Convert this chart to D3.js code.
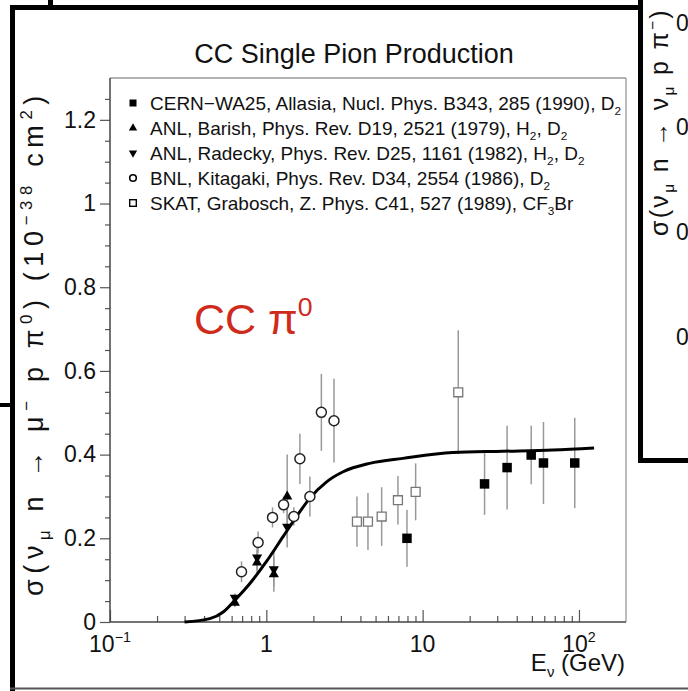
<!DOCTYPE html>
<html><head><meta charset="utf-8">
<script src="https://cdn.jsdelivr.net/npm/d3@7"></script>
<style>
html,body{margin:0;padding:0;background:#fff;overflow:hidden}
svg{display:block;font-family:"Liberation Sans",Arial,Helvetica,sans-serif}
</style></head><body>
<svg id="c" width="688" height="691"></svg>
<script>
// ---------------- data ----------------
const cernE   = [7.94, 24.9, 34.7, 49.5, 59.3, 94.0];
const cernS   = [0.200, 0.330, 0.369, 0.399, 0.380, 0.380];
const cernErr = [0.068, 0.074, 0.100, 0.070, 0.098, 0.108];

const barishE   = [0.629, 0.873, 1.117, 1.36];
const barishS   = [0.046, 0.142, 0.114, 0.300];
const barishErr = [0.010, 0.030, 0.042, 0.100];

const radeckyE   = [0.629, 0.873, 1.117, 1.36];
const radeckyS   = [0.058, 0.154, 0.126, 0.228];
const radeckyErr = [0.010, 0.030, 0.042, 0.050];

const bnlE   = [0.694, 0.886, 1.096, 1.29, 1.50, 1.64, 1.90, 2.25, 2.71];
const bnlS   = [0.120, 0.190, 0.250, 0.280, 0.252, 0.390, 0.300, 0.501, 0.481];
const bnlErr = [0.025, 0.026, 0.024, 0.020, 0.022, 0.060, 0.048, 0.092, 0.100];

const skatE   = [3.80, 4.47, 5.47, 6.95, 9.02, 16.9];
const skatS   = [0.240, 0.240, 0.252, 0.291, 0.311, 0.549];
const skatErr = [0.060, 0.068, 0.070, 0.058, 0.068, 0.148];

const curveE = [0.30, 0.435, 0.53, 0.629, 0.785, 1.0, 1.28, 1.56, 1.90, 2.43, 3.10, 4.58, 7.48, 15.6, 32.6, 68.1, 125];
const curveS = [0.000, 0.008, 0.024, 0.052, 0.092, 0.144, 0.204, 0.252, 0.296, 0.335, 0.359, 0.379, 0.391, 0.405, 0.408, 0.411, 0.416];

const yMajorTicks = [0, 0.2, 0.4, 0.6, 0.8, 1, 1.2];
const yMinorTicks = [0.05,0.1,0.15,0.25,0.3,0.35,0.45,0.5,0.55,0.65,0.7,0.75,0.85,0.9,0.95,1.05,1.1,1.15,1.25];
const xMajorTicks = [0.1, 1, 10, 100];
const xMinorTicks = [0.2,0.3,0.4,0.5,0.6,0.7,0.8,0.9,2,3,4,5,6,7,8,9,20,30,40,50,60,70,80,90];
const xTickLabels = [["10","−1"],["1",""],["10",""],["10","2"]];

const titleText = "CC Single Pion Production";
const legendLabels = [
  [["CERN−WA25, Allasia, Nucl. Phys. B343, 285 (1990), D",""],["2","sub"]],
  [["ANL, Barish, Phys. Rev. D19, 2521 (1979), H",""],["2","sub"],[", D",""],["2","sub"]],
  [["ANL, Radecky, Phys. Rev. D25, 1161 (1982), H",""],["2","sub"],[", D",""],["2","sub"]],
  [["BNL, Kitagaki, Phys. Rev. D34, 2554 (1986), D",""],["2","sub"]],
  [["SKAT, Grabosch, Z. Phys. C41, 527 (1989), CF",""],["3","sub"],["Br",""]]
];
const yLabelParts = [["σ(ν",""],["μ","sub"],[" n → μ",""],["−","sup"],[" p π",""],["0","sup"],[") (10",""],["−38","sup"],[" cm",""],["2","sup"],[")",""]];
const rightLabelParts = [["σ(ν",""],["μ","sub"],[" n → ν",""],["μ","sub"],[" p π",""],["−","sup"],[")",""]];
const xLabelParts = [["E",""],["ν","sub"],[" (GeV)",""]];
const redLabelParts = [["CC π",""],["0","sup"]];

// ---------------- helpers ----------------
function rich(sel, parts, fs) {
  let cur = 0;
  parts.forEach(([t, k]) => {
    const target = k === "sup" ? -0.42 * fs : k === "sub" ? 0.25 * fs : 0;
    const ts = sel.append("tspan").text(t).attr("dy", target - cur);
    if (k) ts.attr("font-size", fs * 0.62);
    cur = target;
  });
  return sel;
}
function stretch(sel, target) {
  const node = sel.node();
  const L = node.getComputedTextLength();
  const n = node.getNumberOfChars();
  sel.style("letter-spacing", Math.max(0, (target - L) / n) + "px");
}

const svg = d3.select("#c");

// ---------------- page decoration (panel borders) ----------------
svg.append("rect").attr("x",0).attr("y",0).attr("width",688).attr("height",691).attr("fill","#fff");
svg.append("rect").attr("x",10).attr("y",5).attr("width",5).attr("height",686).attr("fill","#000");
svg.append("rect").attr("x",10).attr("y",5).attr("width",633).attr("height",5).attr("fill","#000");
svg.append("rect").attr("x",48).attr("y",0).attr("width",5).attr("height",6).attr("fill","#000");
svg.append("rect").attr("x",0).attr("y",403).attr("width",12).attr("height",4).attr("fill","#000");
svg.append("rect").attr("x",10).attr("y",687.5).attr("width",678).attr("height",2).attr("fill","#555");

// right neighbouring panel
svg.append("rect").attr("x",638).attr("y",0).attr("width",50).attr("height",463).attr("fill","#fff");
svg.append("rect").attr("x",638).attr("y",0).attr("width",5).attr("height",463).attr("fill","#000");
svg.append("rect").attr("x",638).attr("y",458).attr("width",50).attr("height",5).attr("fill","#000");
const rl = svg.append("text").attr("transform","translate(668,236) rotate(-90)")
  .attr("font-size",25).attr("fill","#111");
rich(rl, rightLabelParts, 25);
stretch(rl, 228);
[23, 127, 232, 337].forEach(v => {
  svg.append("text").attr("x",676).attr("y",v+8).attr("font-size",23).attr("fill","#111").text("0");
});

// ---------------- scales ----------------
const x = d3.scaleLog().domain([0.1, 200]).range([110, 626]);
const y = d3.scaleLinear().domain([0, 1.3]).range([622, 78]);

// title
svg.append("text").attr("x",354).attr("y",63).attr("text-anchor","middle")
  .attr("font-size",27).attr("fill","#111").text(titleText);

// frame
svg.append("line").attr("x1",110).attr("x2",626).attr("y1",78).attr("y2",78).attr("stroke","#999").attr("stroke-width",1.3);
svg.append("line").attr("x1",626).attr("x2",626).attr("y1",78).attr("y2",622).attr("stroke","#999").attr("stroke-width",1.3);

// y axis
const gy = svg.append("g").attr("transform","translate(110,0)");
gy.call(d3.axisLeft(y).tickValues(yMinorTicks).tickSize(5).tickFormat(""));
gy.call(g => g.select(".domain").remove());
const gy2 = svg.append("g").attr("transform","translate(110,0)");
gy2.call(d3.axisLeft(y).tickValues(yMajorTicks).tickSize(10).tickPadding(4).tickFormat(d3.format("~g")));
gy2.select(".domain").remove();
gy2.selectAll("text").attr("font-size",23).attr("fill","#111").attr("font-family","Liberation Sans, Arial, sans-serif");

// x axis (ticks point inward)
const gx = svg.append("g").attr("transform","translate(0,622)");
gx.call(d3.axisBottom(x).tickValues(xMinorTicks).tickSize(-6).tickFormat(""));
gx.select(".domain").remove();
const gx2 = svg.append("g").attr("transform","translate(0,622)");
gx2.call(d3.axisBottom(x).tickValues(xMajorTicks).tickSize(-12).tickFormat(""));
gx2.select(".domain").remove();
svg.selectAll("g .tick line").attr("stroke","#555").attr("stroke-width",1.2);

// axis lines
svg.append("line").attr("x1",110).attr("x2",110).attr("y1",78).attr("y2",622).attr("stroke","#444").attr("stroke-width",1.5);
svg.append("line").attr("x1",110).attr("x2",626).attr("y1",622).attr("y2",622).attr("stroke","#444").attr("stroke-width",1.5);

// x tick labels
xMajorTicks.forEach((v, i) => {
  const t = svg.append("text").attr("x", x(v)).attr("y", 652).attr("text-anchor","middle")
    .attr("font-size",23).attr("fill","#111");
  const [b, s] = xTickLabels[i];
  rich(t, s ? [[b,""],[s,"sup"]] : [[b,""]], 23);
});

// axis titles
const xl = svg.append("text").attr("x",625).attr("y",671).attr("text-anchor","end")
  .attr("font-size",24).attr("fill","#111");
rich(xl, xLabelParts, 24);

const yl = svg.append("text").attr("transform","translate(43,596) rotate(-90)")
  .attr("font-size",27).attr("fill","#111");
rich(yl, yLabelParts, 27);
stretch(yl, 506);

// red label
const red = svg.append("text").attr("x",194).attr("y",334).attr("font-size",43).attr("fill","#d02a1c");
rich(red, redLabelParts, 43);

// ---------------- legend ----------------
const legY = [103, 128, 153, 178, 203];
const legSym = [
  g => g.append("rect").attr("x",-3.5).attr("y",-3.5).attr("width",7).attr("height",7).attr("fill","#000"),
  g => g.append("path").attr("d", d3.symbol(d3.symbolTriangle, 30)()).attr("fill","#000"),
  g => g.append("path").attr("d", d3.symbol(d3.symbolTriangle, 30)()).attr("transform","rotate(180)").attr("fill","#000"),
  g => g.append("circle").attr("r",3.3).attr("fill","#fff").attr("stroke","#000").attr("stroke-width",1.6),
  g => g.append("rect").attr("x",-3.3).attr("y",-3.3).attr("width",6.6).attr("height",6.6).attr("fill","#fff").attr("stroke","#000").attr("stroke-width",1.4)
];
legendLabels.forEach((parts, i) => {
  const g = svg.append("g").attr("transform", `translate(133,${legY[i]})`);
  legSym[i](g);
  const t = svg.append("text").attr("x",150).attr("y",legY[i] + 7).attr("font-size",19).attr("fill","#111");
  rich(t, parts, 19);
});

// ---------------- error bars ----------------
const ebar = (E, S, Er) => E.forEach((e, i) => {
  svg.append("line").attr("x1", x(e)).attr("x2", x(e))
    .attr("y1", y(S[i] - Er[i])).attr("y2", y(S[i] + Er[i]))
    .attr("stroke","#999").attr("stroke-width",1.5);
});
ebar(cernE, cernS, cernErr);
ebar(barishE, barishS, barishErr);
ebar(radeckyE, radeckyS, radeckyErr);
ebar(bnlE, bnlS, bnlErr);
ebar(skatE, skatS, skatErr);

// ---------------- model curve ----------------
const line = d3.line().x(d => x(d[0])).y(d => y(d[1])).curve(d3.curveMonotoneX);
svg.append("path").datum(curveE.map((e, i) => [e, curveS[i]]))
  .attr("d", line).attr("fill","none").attr("stroke","#000").attr("stroke-width",3);

// ---------------- markers ----------------
cernE.forEach((e, i) => {
  svg.append("path").attr("d", d3.symbol(d3.symbolSquare, 90)())
    .attr("transform", `translate(${x(e)},${y(cernS[i])})`).attr("fill","#000");
});
skatE.forEach((e, i) => {
  svg.append("path").attr("d", d3.symbol(d3.symbolSquare, 80)())
    .attr("transform", `translate(${x(e)},${y(skatS[i])})`)
    .attr("fill","#fff").attr("stroke","#777").attr("stroke-width",1.3);
});
bnlE.forEach((e, i) => {
  svg.append("circle").attr("cx", x(e)).attr("cy", y(bnlS[i])).attr("r",5)
    .attr("fill","#fff").attr("stroke","#222").attr("stroke-width",1.5);
});
barishE.forEach((e, i) => {
  svg.append("path").attr("d", d3.symbol(d3.symbolTriangle, 45)())
    .attr("transform", `translate(${x(e)},${y(barishS[i])})`).attr("fill","#000");
});
radeckyE.forEach((e, i) => {
  svg.append("path").attr("d", d3.symbol(d3.symbolTriangle, 45)())
    .attr("transform", `translate(${x(e)},${y(radeckyS[i])}) rotate(180)`).attr("fill","#000");
});
</script></body></html>
